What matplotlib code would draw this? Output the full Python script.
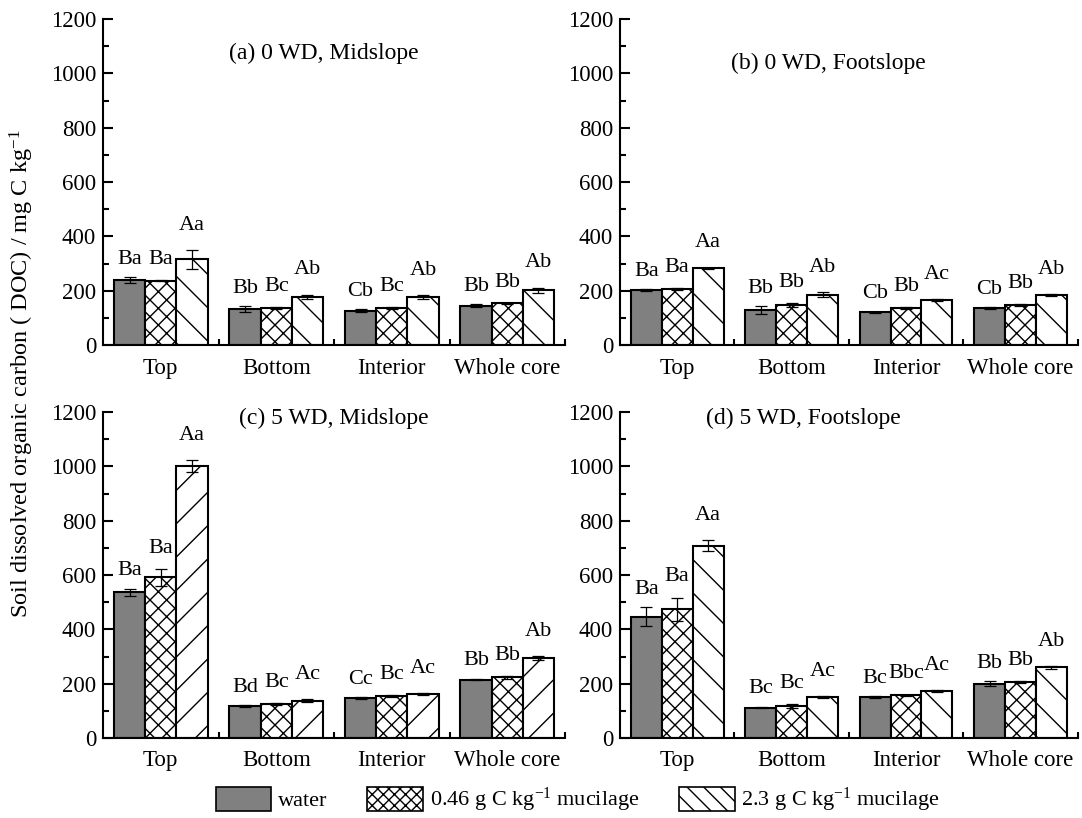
import matplotlib
matplotlib.use('Agg')
import matplotlib.pyplot as plt
import numpy as np
from matplotlib.patches import Patch
from matplotlib.ticker import MultipleLocator, FixedLocator

plt.rcParams['font.family'] = ['Liberation Serif', 'DejaVu Serif']
plt.rcParams['mathtext.fontset'] = 'custom'
plt.rcParams['mathtext.rm'] = 'Liberation Serif'
plt.rcParams['mathtext.it'] = 'Liberation Serif:italic'
plt.rcParams['hatch.linewidth'] = 1.0

categories = ['Top', 'Bottom', 'Interior', 'Whole core']

# (a) 0 WD, Midslope
a_water = [240, 133, 126, 145]
a_low = [237, 137, 137, 153]
a_high = [315, 178, 177, 202]
a_water_err = [10, 10, 6, 5]
a_low_err = [3, 3, 3, 3]
a_high_err = [35, 8, 6, 9]
a_letters = [['Ba', 'Ba', 'Aa'], ['Bb', 'Bc', 'Ab'], ['Cb', 'Bc', 'Ab'], ['Bb', 'Bb', 'Ab']]

# (b) 0 WD, Footslope
b_water = [202, 129, 120, 135]
b_low = [206, 147, 136, 148]
b_high = [282, 186, 166, 184]
b_water_err = [4, 15, 3, 4]
b_low_err = [4, 6, 5, 4]
b_high_err = [3, 8, 3, 3]
b_letters = [['Ba', 'Ba', 'Aa'], ['Bb', 'Bb', 'Ab'], ['Cb', 'Bb', 'Ac'], ['Cb', 'Bb', 'Ab']]

# (c) 5 WD, Midslope
c_water = [537, 118, 147, 215]
c_low = [591, 124, 155, 223]
c_high = [1001, 137, 163, 294]
c_water_err = [13, 4, 3, 3]
c_low_err = [32, 4, 3, 5]
c_high_err = [22, 5, 3, 7]
c_letters = [['Ba', 'Ba', 'Aa'], ['Bd', 'Bc', 'Ac'], ['Cc', 'Bc', 'Ac'], ['Bb', 'Bb', 'Ab']]

# (d) 5 WD, Footslope
d_water = [447, 112, 150, 200]
d_low = [474, 118, 157, 205]
d_high = [708, 150, 173, 260]
d_water_err = [35, 3, 4, 8]
d_low_err = [43, 8, 3, 3]
d_high_err = [20, 3, 3, 5]
d_letters = [['Ba', 'Ba', 'Aa'], ['Bc', 'Bc', 'Ac'], ['Bc', 'Bbc', 'Ac'], ['Bb', 'Bb', 'Ab']]

GRAY = '#808080'
W = 0.27
LETTER_PAD = [6, 8, 11]  # letters sit a bit higher left to right


def draw_panel(ax, vals, errs, letters, title, title_xy, hatch_high):
    x = np.arange(len(categories))
    styles = [dict(color=GRAY, hatch=None), dict(color='white', hatch='xx'),
              dict(color='white', hatch=hatch_high)]
    for i, (v, e, st) in enumerate(zip(vals, errs, styles)):
        pos = x + (i - 1) * W
        ax.bar(pos, v, W, facecolor=st['color'], edgecolor='black', linewidth=1.5,
               hatch=st['hatch'], zorder=2)
        ax.errorbar(pos, v, yerr=e, fmt='none', ecolor='black', elinewidth=0.9,
                    capsize=4, capthick=0.9, zorder=3)
        for j in range(len(categories)):
            ax.annotate(letters[j][i], (pos[j], v[j] + e[j]), xytext=(0, LETTER_PAD[i]),
                        textcoords='offset points', ha='center', va='bottom', fontsize=16)
    ax.set_xlim(-0.5, 3.5)
    ax.set_ylim(0, 1200)
    ax.yaxis.set_major_locator(MultipleLocator(200))
    ax.yaxis.set_minor_locator(MultipleLocator(100))
    ax.set_xticks(x)
    ax.set_xticklabels(categories)
    ax.xaxis.set_minor_locator(FixedLocator([0.5, 1.5, 2.5, 3.5]))
    ax.tick_params(axis='both', which='major', direction='in', length=7, width=1.5,
                   labelsize=16.5)
    ax.tick_params(axis='both', which='minor', direction='in', length=4.5, width=1.5)
    ax.tick_params(axis='x', which='major', pad=9)
    ax.tick_params(axis='y', which='major', pad=5)
    for s in ['top', 'right']:
        ax.spines[s].set_visible(False)
    for s in ['left', 'bottom']:
        ax.spines[s].set_linewidth(1.5)
    ax.text(title_xy[0], title_xy[1], title, transform=ax.transAxes, ha='center',
            va='center', fontsize=17)


fig = plt.figure(figsize=(10.82, 8.18), dpi=100)
ax_a = fig.add_axes([0.0952, 0.5782, 0.427, 0.3985])
ax_b = fig.add_axes([0.573, 0.5782, 0.423, 0.3985])
ax_c = fig.add_axes([0.0952, 0.0978, 0.427, 0.3985])
ax_d = fig.add_axes([0.573, 0.0978, 0.423, 0.3985])

draw_panel(ax_a, [a_water, a_low, a_high], [a_water_err, a_low_err, a_high_err],
           a_letters, '(a) 0 WD, Midslope', (0.478, 0.896), '\\')
draw_panel(ax_b, [b_water, b_low, b_high], [b_water_err, b_low_err, b_high_err],
           b_letters, '(b) 0 WD, Footslope', (0.456, 0.865), '\\')
draw_panel(ax_c, [c_water, c_low, c_high], [c_water_err, c_low_err, c_high_err],
           c_letters, '(c) 5 WD, Midslope', (0.50, 0.98), '/')
draw_panel(ax_d, [d_water, d_low, d_high], [d_water_err, d_low_err, d_high_err],
           d_letters, '(d) 5 WD, Footslope', (0.40, 0.98), '\\')

fig.text(0.02, 0.543, 'Soil dissolved organic carbon ( DOC) / mg C kg$^{-1}$',
         rotation=90, ha='center', va='center', fontsize=17.5)

handles = [Patch(facecolor=GRAY, edgecolor='black', linewidth=1.2),
           Patch(facecolor='white', edgecolor='black', hatch='xxx', linewidth=1.2),
           Patch(facecolor='white', edgecolor='black', hatch='\\\\', linewidth=1.2)]
labels = ['water', '0.46 g C kg$^{-1}$ mucilage', '2.3 g C kg$^{-1}$ mucilage']
fig.legend(handles, labels, loc='lower center', bbox_to_anchor=(0.534, -0.02), ncol=3,
           frameon=False, fontsize=16, handlelength=2.5, handleheight=1.3,
           columnspacing=1.8, handletextpad=0.3)

fig.savefig('out.png', dpi=100)
